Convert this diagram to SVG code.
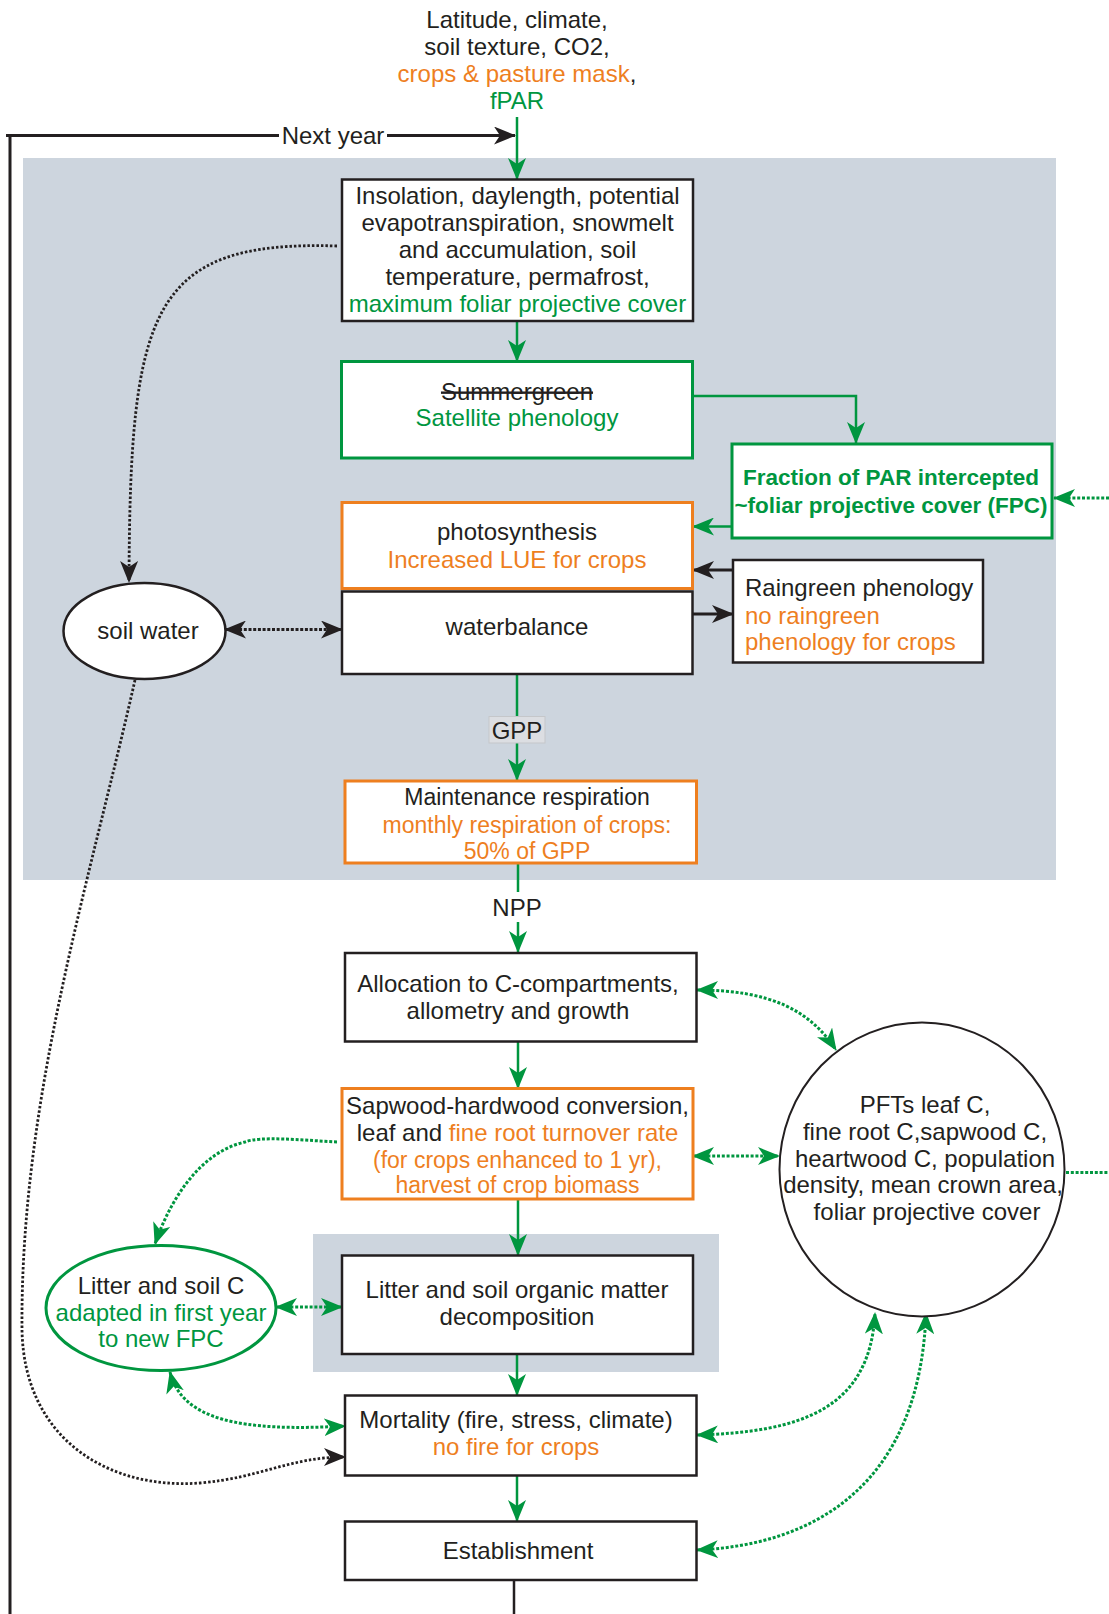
<svg xmlns="http://www.w3.org/2000/svg" width="1109" height="1614" viewBox="0 0 1109 1614">
<style>
text{font-family:"Liberation Sans",Arial,Helvetica,sans-serif;font-size:24px;fill:#231f20;}
.c{text-anchor:middle;}
.s23{font-size:23px;}
.g{fill:#00963f;}
.o{fill:#ee7f1f;}
.b{font-weight:bold;font-size:22.5px;}
.box{fill:#fff;stroke:#231f20;stroke-width:2.5;}
.gbox{fill:#fff;stroke:#00963f;stroke-width:3;}
.obox{fill:#fff;stroke:#ee7f1f;stroke-width:3;}
.panel{fill:#cdd5de;}
.gl{fill:none;stroke:#00963f;stroke-width:2.5;}
.bl{fill:none;stroke:#231f20;stroke-width:3;}
.gd{fill:none;stroke:#00963f;stroke-width:3;stroke-dasharray:3 1.8;}
.bd{fill:none;stroke:#231f20;stroke-width:2.8;stroke-dasharray:2.5 2;}
</style>
<defs>
<marker id="ag" viewBox="0 0 22 18" refX="21" refY="9" markerWidth="22" markerHeight="18" markerUnits="userSpaceOnUse" orient="auto-start-reverse"><path d="M0,0 L22,9 L0,18 L6,9 Z" fill="#00963f"/></marker>
<marker id="ab" viewBox="0 0 22 18" refX="21" refY="9" markerWidth="22" markerHeight="18" markerUnits="userSpaceOnUse" orient="auto-start-reverse"><path d="M0,0 L22,9 L0,18 L6,9 Z" fill="#231f20"/></marker>
</defs>

<rect class="panel" x="23" y="158" width="1033" height="722"/>
<rect class="panel" x="313" y="1234" width="406" height="138"/>

<g id="inputs">
<text class="c" x="517" y="28">Latitude, climate,</text>
<text class="c" x="517" y="55">soil texture, CO2,</text>
<text class="c" x="517" y="82"><tspan class="o">crops &amp; pasture mask</tspan>,</text>
<text class="c g" x="517" y="109">fPAR</text>
</g>

<g id="connectors">
<path class="bl" d="M6,135.5 H279"/>
<text class="c" x="333" y="144">Next year</text>
<path class="bl" d="M387,135.5 H515" marker-end="url(#ab)"/>
<path class="bl" d="M10,134 V1614"/>
<path class="gl" d="M517,117 V179" marker-end="url(#ag)"/>
<path class="gl" d="M517,321 V361" marker-end="url(#ag)"/>
<path class="gl" d="M692,396 H856 V443" marker-end="url(#ag)"/>
<path class="gd" d="M1109,498 H1054" marker-end="url(#ag)"/>
<path class="gl" d="M732,526.5 H693" marker-end="url(#ag)"/>
<path class="bl" d="M733,570 H693" marker-end="url(#ab)"/>
<path class="bl" d="M692,614 H733" marker-end="url(#ab)"/>
<path class="bd" d="M337,246 C150,240 130,310 129,582" marker-end="url(#ab)"/>
<path class="bd" style="stroke-width:3;stroke-dasharray:3 1.7" d="M225,629.5 H342" marker-start="url(#ab)" marker-end="url(#ab)"/>
<path class="gl" d="M517,674 V716"/>
<path class="gl" d="M517,743 V780" marker-end="url(#ag)"/>
<path class="gl" d="M518,863 V892"/>
<path class="gl" d="M518,922 V952" marker-end="url(#ag)"/>
<path class="gd" d="M697,990 C770,990 810,1010 836,1050" marker-start="url(#ag)" marker-end="url(#ag)"/>
<path class="gl" d="M518,1042 V1088" marker-end="url(#ag)"/>
<path class="gd" d="M337,1142 C300,1140 260,1136 245,1142 C200,1152 170,1200 155,1244" marker-end="url(#ag)"/>
<path class="gd" d="M693,1156 H779" marker-start="url(#ag)" marker-end="url(#ag)"/>
<path class="gd" d="M1066,1172.5 H1109"/>
<path class="gl" d="M518,1199 V1255" marker-end="url(#ag)"/>
<path class="gd" d="M276,1307 H342" marker-start="url(#ag)" marker-end="url(#ag)"/>
<path class="gl" d="M517,1354 V1395" marker-end="url(#ag)"/>
<path class="gd" d="M170,1372 C182,1420 240,1432 345,1426" marker-start="url(#ag)" marker-end="url(#ag)"/>
<path class="bd" d="M135,680 C90,880 20,1100 22,1330 C24,1440 110,1490 200,1483 C260,1478 290,1457 345,1457" marker-end="url(#ab)"/>
<path class="gd" d="M697,1435 C800,1432 870,1410 875,1313" marker-start="url(#ag)" marker-end="url(#ag)"/>
<path class="gd" d="M697,1550 C820,1545 920,1480 926,1313" marker-start="url(#ag)" marker-end="url(#ag)"/>
<path class="gl" d="M517,1475 V1521" marker-end="url(#ag)"/>
<path class="bl" style="stroke-width:2.5" d="M514,1580 V1614"/>
</g>

<g id="insolation">
<rect class="box" x="342" y="179.5" width="351" height="141.5"/>
<text class="c" x="517.5" y="204">Insolation, daylength, potential</text>
<text class="c" x="517.5" y="231">evapotranspiration, snowmelt</text>
<text class="c" x="517.5" y="258">and accumulation, soil</text>
<text class="c" x="517.5" y="285">temperature, permafrost,</text>
<text class="c g" x="517.5" y="311.5">maximum foliar projective cover</text>
</g>

<g id="phenology">
<rect class="gbox" x="341.5" y="361.5" width="351" height="96.5"/>
<text class="c" x="517" y="400" text-decoration="line-through">Summergreen</text>
<text class="c g" x="517" y="426">Satellite phenology</text>
</g>

<g id="fpc">
<rect class="gbox" x="732" y="444" width="320" height="94"/>
<text class="c g b" x="891" y="485">Fraction of PAR intercepted</text>
<text class="c g b" x="891" y="512.5">~foliar projective cover (FPC)</text>
</g>

<g id="photosynthesis">
<rect class="obox" x="342" y="502.5" width="350.5" height="86"/>
<text class="c" x="517" y="539.5">photosynthesis</text>
<text class="c o" x="517" y="567.5">Increased LUE for crops</text>
</g>

<g id="waterbalance">
<rect class="box" x="342" y="591.5" width="350.5" height="82.5"/>
<text class="c" x="517" y="634.5">waterbalance</text>
</g>

<g id="raingreen">
<rect class="box" x="733" y="560" width="250" height="102.5"/>
<text x="745" y="596">Raingreen phenology</text>
<text class="o" x="745" y="623.5">no raingreen</text>
<text class="o" x="745" y="650">phenology for crops</text>
</g>

<g id="soilwater">
<ellipse cx="144.5" cy="631" rx="81" ry="48" fill="#fff" stroke="#231f20" stroke-width="2.5"/>
<text class="c" x="148" y="639">soil water</text>
</g>

<g id="gpp">
<rect x="489" y="716.5" width="56" height="26.5" fill="#dcdee2" stroke="#c5c7ca" stroke-width="1"/>
<text class="c" x="517" y="738.5">GPP</text>
</g>

<g id="maintenance">
<rect class="obox" x="345" y="781" width="351.5" height="82"/>
<text class="c s23" x="527" y="805">Maintenance respiration</text>
<text class="c s23 o" x="527" y="832.5">monthly respiration of crops:</text>
<text class="c s23 o" x="527" y="859">50% of GPP</text>
</g>

<g id="npp">
<text class="c" x="517" y="916">NPP</text>
</g>

<g id="allocation">
<rect class="box" x="345" y="953" width="351.5" height="88.5"/>
<text class="c" x="518" y="991.5">Allocation to C-compartments,</text>
<text class="c" x="518" y="1018.5">allometry and growth</text>
</g>

<g id="sapwood">
<rect class="obox" x="342" y="1088.5" width="351" height="110.5"/>
<text class="c" x="517.5" y="1113.5">Sapwood-hardwood conversion,</text>
<text class="c" x="517.5" y="1141">leaf and <tspan class="o">fine root turnover rate</tspan></text>
<text class="c s23 o" x="517.5" y="1167.5">(for crops enhanced to 1 yr),</text>
<text class="c s23 o" x="517.5" y="1193">harvest of crop biomass</text>
</g>

<g id="pfts">
<ellipse cx="922" cy="1169.5" rx="142.5" ry="147" fill="#fff" stroke="#231f20" stroke-width="2"/>
<text class="c" x="925" y="1112.5">PFTs leaf C,</text>
<text class="c" x="925" y="1140">fine root C,sapwood C,</text>
<text class="c" x="925" y="1166.5">heartwood C, population</text>
<text class="c" x="923" y="1193">density, mean crown area,</text>
<text class="c" x="927" y="1220">foliar projective cover</text>
</g>

<g id="litterdecomp">
<rect class="box" x="342" y="1255.5" width="351" height="98.5"/>
<text class="c" x="517" y="1297.5">Litter and soil organic matter</text>
<text class="c" x="517" y="1324.5">decomposition</text>
</g>

<g id="littersoilc">
<ellipse cx="161" cy="1308" rx="115" ry="62.5" fill="#fff" stroke="#00963f" stroke-width="3"/>
<text class="c" x="161" y="1293.5">Litter and soil C</text>
<text class="c g" x="161" y="1320.5">adapted in first year</text>
<text class="c g" x="161" y="1347">to new FPC</text>
</g>

<g id="mortality">
<rect class="box" x="345" y="1395.5" width="351.5" height="80"/>
<text class="c" x="516" y="1428">Mortality (fire, stress, climate)</text>
<text class="c o" x="516" y="1455">no fire for crops</text>
</g>

<g id="establishment">
<rect class="box" x="345" y="1521.5" width="351.5" height="58.5"/>
<text class="c" x="518" y="1558.5">Establishment</text>
</g>
</svg>
